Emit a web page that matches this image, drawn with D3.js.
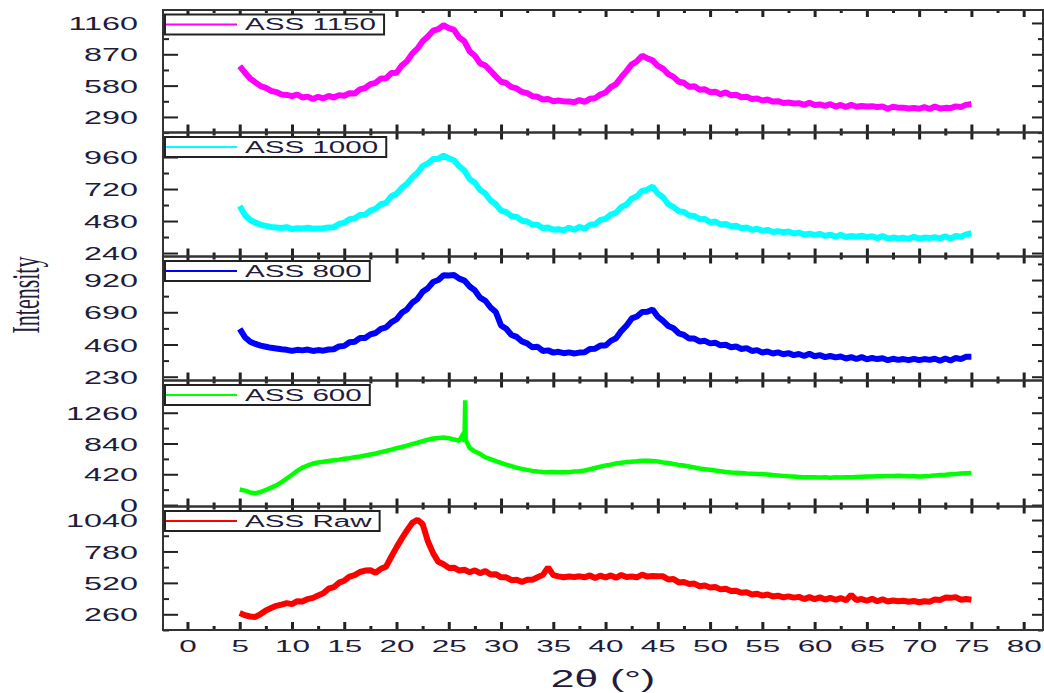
<!DOCTYPE html>
<html>
<head>
<meta charset="utf-8">
<script src="https://cdn.jsdelivr.net/npm/d3@7"></script>
<style>
  body { margin: 0; background: #fff; }
  svg { display: block; }
</style>
</head>
<body>
<svg id="xrd-svg"></svg>
<script>
// Datos (2θ cada 0.5°).
const twoTheta = [
  5, 5.5, 6, 6.5, 7, 7.5, 8, 8.5, 9, 9.5,
  10, 10.5, 11, 11.5, 12, 12.5, 13, 13.5, 14, 14.5,
  15, 15.5, 16, 16.5, 17, 17.5, 18, 18.5, 19, 19.5,
  20, 20.5, 21, 21.5, 22, 22.5, 23, 23.5, 24, 24.5,
  25, 25.5, 26, 26.5, 27, 27.5, 28, 28.5, 29, 29.5,
  30, 30.5, 31, 31.5, 32, 32.5, 33, 33.5, 34, 34.5,
  35, 35.5, 36, 36.5, 37, 37.5, 38, 38.5, 39, 39.5,
  40, 40.5, 41, 41.5, 42, 42.5, 43, 43.5, 44, 44.5,
  45, 45.5, 46, 46.5, 47, 47.5, 48, 48.5, 49, 49.5,
  50, 50.5, 51, 51.5, 52, 52.5, 53, 53.5, 54, 54.5,
  55, 55.5, 56, 56.5, 57, 57.5, 58, 58.5, 59, 59.5,
  60, 60.5, 61, 61.5, 62, 62.5, 63, 63.5, 64, 64.5,
  65, 65.5, 66, 66.5, 67, 67.5, 68, 68.5, 69, 69.5,
  70, 70.5, 71, 71.5, 72, 72.5, 73, 73.5, 74, 74.5,
  75
];

const ass1150 = [
  760, 700, 645, 610, 575, 560, 532, 520, 498, 494,
  482, 498, 470, 478, 456, 476, 462, 484, 470, 492,
  486, 510, 506, 546, 558, 594, 606, 646, 648, 696,
  700, 766, 806, 876, 922, 990, 1034, 1088, 1102, 1140,
  1112, 1096, 1024, 990, 896, 856, 786, 766, 716, 666,
  616, 604, 566, 554, 522, 510, 482, 476, 452, 456,
  436, 442, 434, 434, 426, 446, 430, 458, 464, 498,
  516, 566, 594, 658, 714, 776, 806, 856, 832, 814,
  762, 736, 686, 661, 616, 606, 569, 574, 542, 546,
  519, 524, 500, 518, 490, 496, 472, 476, 456, 461,
  442, 451, 432, 436, 419, 424, 414, 418, 402, 421,
  400, 406, 392, 408, 386, 401, 382, 402, 384, 392,
  386, 390, 382, 386, 366, 384, 376, 376, 368, 374,
  366, 382, 364, 386, 368, 374, 372, 388, 382, 402,
  410
];

const ass1000 = [
  592, 525, 488, 468, 452, 444, 436, 432, 428, 434,
  420, 426, 424, 430, 422, 424, 426, 432, 434, 458,
  468, 494, 500, 526, 528, 558, 572, 606, 616, 666,
  684, 728, 758, 806, 842, 892, 912, 946, 948, 970,
  950, 936, 890, 858, 794, 768, 712, 686, 634, 606,
  558, 546, 516, 511, 482, 476, 452, 452, 426, 432,
  414, 418, 410, 430, 414, 436, 422, 452, 456, 488,
  496, 528, 542, 584, 604, 648, 666, 706, 716, 738,
  686, 658, 606, 584, 554, 548, 522, 518, 494, 496,
  470, 476, 454, 458, 440, 444, 426, 432, 414, 422,
  406, 414, 398, 404, 396, 402, 386, 394, 378, 386,
  376, 384, 368, 378, 362, 376, 360, 368, 362, 370,
  360, 366, 352, 368, 348, 356, 350, 354, 346, 362,
  348, 356, 352, 358, 350, 366, 348, 368, 362, 380,
  388
];

const ass800 = [
  572, 512, 480, 464, 452, 444, 436, 432, 426, 422,
  414, 422, 418, 424, 414, 420, 416, 424, 426, 446,
  450, 476, 480, 506, 506, 532, 542, 572, 582, 618,
  640, 686, 710, 758, 784, 836, 862, 906, 920, 954,
  952, 956, 930, 916, 874, 846, 794, 772, 724, 692,
  596, 572, 528, 514, 482, 468, 440, 444, 414, 418,
  402, 408, 398, 404, 396, 402, 404, 428, 430, 452,
  452, 486, 504, 556, 594, 646, 660, 692, 694, 710,
  658, 628, 592, 576, 540, 528, 502, 502, 482, 486,
  468, 472, 454, 458, 440, 446, 428, 434, 414, 420,
  402, 410, 396, 404, 390, 398, 384, 392, 378, 394,
  376, 384, 370, 378, 368, 374, 360, 370, 356, 370,
  354, 364, 356, 362, 348, 358, 350, 356, 348, 358,
  348, 356, 350, 358, 344, 360, 346, 364, 356, 372,
  372
];

const ass600 = [
  212, 196, 172, 162, 178, 206, 238, 268, 312, 362,
  414, 466, 512, 540, 566, 580, 590, 602, 612, 620,
  632, 640, 652, 662, 676, 690, 704, 722, 738, 756,
  776, 792, 812, 832, 850, 872, 892, 908, 916, 922,
  912, 896, 878, 860, 780, 730, 698, 652, 626, 600,
  574, 552, 530, 508, 494, 480, 466, 458, 452, 448,
  450, 446, 452, 448, 458, 462, 472, 488, 506, 524,
  540, 552, 566, 576, 586, 592, 598, 604, 606, 602,
  596, 582, 574, 560, 548, 540, 526, 512, 498, 490,
  482, 472, 462, 452, 444, 440, 436, 430, 428, 424,
  422, 418, 410, 404, 398, 392, 388, 384, 380, 378,
  378, 376, 380, 374, 378, 376, 380, 378, 382, 386,
  390, 388, 394, 392, 398, 396, 400, 398, 394, 392,
  390, 394, 398, 404, 410, 414, 420, 424, 430, 434,
  438
];
// pico estrecho del ASS 600
const ass600Spike = [[26.45, 990], [26.52, 1000], [26.57, 1430], [26.62, 890]];

const assRaw = [
  270, 252, 242, 238, 262, 292, 312, 330, 340, 352,
  344, 368, 366, 386, 396, 416, 434, 472, 484, 522,
  538, 572, 584, 610, 622, 624, 604, 636, 654, 736,
  814, 886, 954, 1016, 1042, 1006, 864, 766, 694, 674,
  644, 646, 622, 628, 608, 624, 600, 618, 590, 592,
  566, 566, 542, 546, 528, 546, 546, 566, 586, 648,
  584, 574, 566, 572, 568, 574, 566, 582, 560, 580,
  564, 582, 562, 586, 568, 572, 566, 588, 572, 576,
  574, 574, 548, 552, 524, 528, 510, 514, 492, 498,
  482, 486, 466, 472, 452, 454, 438, 442, 424, 430,
  414, 424, 408, 414, 400, 408, 398, 404, 386, 402,
  386, 400, 382, 396, 380, 394, 376, 420, 378, 386,
  372, 388, 368, 384, 366, 374, 368, 372, 364, 370,
  360, 368, 364, 382, 378, 398, 396, 402, 380, 386,
  380
];

const legendNames = ["ASS 1150", "ASS 1000", "ASS 800", "ASS 600", "ASS Raw"];
const yDomains = [[146, 1280], [214, 1144], [203, 1088], [-20, 1700], [130, 1152]];
const yTickValues = [
  [290, 580, 870, 1160],
  [240, 480, 720, 960],
  [230, 460, 690, 920],
  [0, 420, 840, 1260],
  [260, 520, 780, 1040]
];
const yMinorValues = [
  [145, 435, 725, 1015],
  [360, 600, 840, 1080],
  [345, 575, 805, 1035],
  [210, 630, 1050, 1470],
  [130, 390, 650, 910]
];
const xTickValues = [0, 5, 10, 15, 20, 25, 30, 35, 40, 45, 50, 55, 60, 65, 70, 75, 80];
const xMinorValues = [2.5, 7.5, 12.5, 17.5, 22.5, 27.5, 32.5, 37.5, 42.5, 47.5, 52.5, 57.5, 62.5, 67.5, 72.5, 77.5];

// Configuración.
const WIDTH = 1044;
const HEIGHT = 693;
const X0 = 163;
const X1 = 1043;
const BOUNDS = [10, 132.5, 256.5, 380.5, 506.5, 630];
const COLORS = ["#ff00ff", "#00ffff", "#0000ff", "#00ff00", "#ff0000"];
const TEXT_COLOR = "#221c3a";
const STRETCH = 1.8; // la figura original está estirada en horizontal

const panelData = [
  d3.zip(twoTheta, ass1150),
  d3.zip(twoTheta, ass1000),
  d3.zip(twoTheta, ass800),
  d3.zip(twoTheta, ass600).concat(ass600Spike).sort((a, b) => a[0] - b[0]),
  d3.zip(twoTheta, assRaw)
];

const svg = d3.select("svg#xrd-svg")
  .attr("width", WIDTH)
  .attr("height", HEIGHT)
  .style("font-family", "Arial, 'Liberation Sans', sans-serif");

const escalaX = d3.scaleLinear()
  .domain([-2.34, 81.85])
  .range([X0, X1]);

const styleTicks = (g, width) => {
  g.select(".domain").remove();
  g.selectAll(".tick line").attr("stroke", "#222").attr("stroke-width", width);
};

panelData.forEach((datos, i) => {
  const top = BOUNDS[i];
  const bottom = BOUNDS[i + 1];
  const last = i === panelData.length - 1;

  const escalaY = d3.scaleLinear()
    .domain(yDomains[i])
    .range([bottom, top]);

  const panel = svg.append("g").attr("class", "panel");

  // ejes izquierda
  panel.append("g")
    .attr("transform", `translate(${X0},0)`)
    .call(d3.axisLeft(escalaY).tickValues(yMinorValues[i]).tickSize(-6).tickFormat(""))
    .call(g => styleTicks(g, 2));

  const ejeY = panel.append("g")
    .attr("transform", `translate(${X0},0)`)
    .call(d3.axisLeft(escalaY).tickValues(yTickValues[i]).tickSize(-15).tickSizeOuter(0)
      .tickFormat(d3.format("d")))
    .call(g => styleTicks(g, 2));

  ejeY.selectAll(".tick text")
    .attr("x", -25 / 1.75)
    .attr("dy", "0.36em")
    .attr("transform", "scale(1.75,1)")
    .attr("fill", TEXT_COLOR)
    .style("font-size", "18.5px")
    .style("font-family", "Arial, 'Liberation Sans', sans-serif");

  // ejes derecha
  panel.append("g")
    .attr("transform", `translate(${X1},0)`)
    .call(d3.axisRight(escalaY).tickValues(yMinorValues[i]).tickSize(-5).tickFormat(""))
    .call(g => styleTicks(g, 2));
  panel.append("g")
    .attr("transform", `translate(${X1},0)`)
    .call(d3.axisRight(escalaY).tickValues(yTickValues[i]).tickSize(-11).tickFormat(""))
    .call(g => styleTicks(g, 2));

  // ejes arriba
  panel.append("g")
    .attr("transform", `translate(0,${top})`)
    .call(d3.axisTop(escalaX).tickValues(xMinorValues).tickSize(-3).tickFormat(""))
    .call(g => styleTicks(g, 3));
  panel.append("g")
    .attr("transform", `translate(0,${top})`)
    .call(d3.axisTop(escalaX).tickValues(xTickValues).tickSize(-7).tickFormat(""))
    .call(g => styleTicks(g, 3));

  // ejes abajo
  panel.append("g")
    .attr("transform", `translate(0,${bottom})`)
    .call(d3.axisBottom(escalaX).tickValues(xMinorValues).tickSize(-4).tickFormat(""))
    .call(g => styleTicks(g, 3));
  const ejeX = panel.append("g")
    .attr("transform", `translate(0,${bottom})`)
    .call(d3.axisBottom(escalaX).tickValues(xTickValues).tickSize(-8).tickPadding(10)
      .tickFormat(last ? d3.format("d") : ""))
    .call(g => styleTicks(g, 3));

  if (last) {
    ejeX.selectAll(".tick text")
      .attr("transform", "scale(1.85,1)")
      .attr("fill", TEXT_COLOR)
      .style("font-size", "17px")
      .style("font-family", "Arial, 'Liberation Sans', sans-serif");
  }

  // curva
  const linea = d3.line()
    .x(d => escalaX(d[0]))
    .y(d => escalaY(d[1]));

  panel.append("path")
    .datum(datos)
    .attr("fill", "none")
    .attr("stroke", COLORS[i])
    .attr("stroke-width", i === 3 ? 4.5 : 6)
    .attr("stroke-linejoin", "bevel")
    .attr("d", linea);

  // marco
  panel.append("rect")
    .attr("x", X0)
    .attr("y", top)
    .attr("width", X1 - X0)
    .attr("height", bottom - top)
    .attr("fill", "none")
    .attr("stroke", "#333")
    .attr("stroke-width", 2);

  // leyenda
  const leyenda = panel.append("g")
    .attr("transform", `translate(${X0 + 2},${top + 4.5})`);

  const caja = leyenda.append("rect")
    .attr("x", 0)
    .attr("y", 0)
    .attr("height", 20)
    .attr("fill", "#fff")
    .attr("stroke", "#222")
    .attr("stroke-width", 2);

  leyenda.append("line")
    .attr("x1", 1)
    .attr("x2", 72)
    .attr("y1", 10)
    .attr("y2", 10)
    .attr("stroke", COLORS[i])
    .attr("stroke-width", 2);

  const texto = leyenda.append("text")
    .attr("x", 80 / 1.85)
    .attr("y", 15.8)
    .attr("transform", "scale(1.85,1)")
    .attr("fill", TEXT_COLOR)
    .style("font-size", "16px")
    .text(legendNames[i]);

  caja.attr("width", 80 + texto.node().getComputedTextLength() * 1.85 + 8);
});

// títulos
svg.append("text")
  .attr("transform", `translate(603,687) scale(1.85,1)`)
  .attr("text-anchor", "middle")
  .attr("fill", TEXT_COLOR)
  .style("font-size", "23px")
  .text("2θ (°)");

svg.append("text")
  .attr("transform", `translate(27,295) scale(${STRETCH},1) rotate(-90)`)
  .attr("text-anchor", "middle")
  .attr("dy", "0.3em")
  .attr("fill", TEXT_COLOR)
  .style("font-family", "'Liberation Serif', 'Times New Roman', serif")
  .style("font-size", "22px")
  .text("Intensity");
</script>
</body>
</html>
